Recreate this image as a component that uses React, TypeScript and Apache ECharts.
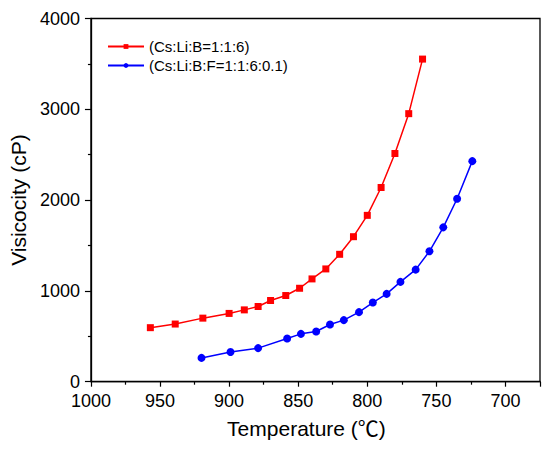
import React, { useEffect, useRef } from "react";
import * as echarts from "echarts";

const seriesNames = ["(Cs:Li:B=1:1:6)", "(Cs:Li:B:F=1:1:6:0.1)"];

const redTemp = [957, 939, 919, 900, 889, 879, 870, 859, 849, 840, 830, 820, 810, 800, 790, 780, 770, 760];
const redVisc = [595, 635, 700, 752, 791, 828, 894, 949, 1029, 1132, 1242, 1403, 1597, 1832, 2139, 2513, 2952, 3553];

const blueTemp = [920, 899, 879, 858, 848, 837, 827, 817, 806, 796, 786, 776, 765, 755, 745, 735, 724];
const blueVisc = [262, 327, 370, 476, 527, 553, 630, 678, 766, 872, 967, 1099, 1234, 1436, 1700, 2015, 2429];

const FONT = "'Liberation Sans', Arial, 'Noto Sans CJK SC', sans-serif";

export default function App() {
  const ref = useRef<HTMLDivElement>(null);
  useEffect(() => {
    if (!ref.current) return;
    const chart = echarts.init(ref.current, null, { renderer: "svg" });
    const pair = (xs: number[], ys: number[]) => xs.map((x, i) => [x, ys[i]]);
    chart.setOption({
      animation: false,
      backgroundColor: "#fff",
      textStyle: { fontFamily: FONT },
      grid: {
        left: 88,
        right: 10,
        top: 18.5,
        bottom: 67.3,
        show: true,
        borderColor: "#000",
        borderWidth: 1.3,
        backgroundColor: "transparent",
      },
      legend: {
        orient: "vertical",
        left: 102,
        top: 34,
        itemWidth: 36,
        itemHeight: 6,
        itemGap: 4,
        textStyle: { fontSize: 15, color: "#000", fontFamily: FONT },
        data: seriesNames,
      },
      xAxis: {
        type: "value",
        min: 675,
        max: 1000,
        inverse: true,
        splitNumber: 5,
        name: "Temperature (℃)",
        nameLocation: "middle",
        nameGap: 36,
        nameTextStyle: { fontSize: 21, color: "#000", fontFamily: FONT, padding: [0, 18, 0, 0] },
        axisLine: { show: true, lineStyle: { color: "#000", width: 1.3 } },
        axisTick: { show: true, inside: false, length: 5, lineStyle: { color: "#000", width: 1.2 } },
        minorTick: { show: true, splitNumber: 2, length: 3, lineStyle: { color: "#000", width: 1.2 } },
        splitLine: { show: false },
        axisLabel: {
          fontSize: 18,
          color: "#000",
          margin: 10,
          fontFamily: FONT,
          formatter: (v: number) => (v % 50 === 0 ? String(v) : ""),
        },
      },
      yAxis: {
        type: "value",
        min: 0,
        max: 4000,
        interval: 1000,
        name: "Visicocity (cP)",
        nameLocation: "middle",
        nameGap: 57,
        nameTextStyle: { fontSize: 21, color: "#000", fontFamily: FONT },
        axisLine: { show: true, lineStyle: { color: "#000", width: 1.3 } },
        axisTick: { show: true, inside: false, length: 6, lineStyle: { color: "#000", width: 1.2 } },
        minorTick: { show: true, splitNumber: 2, length: 3, lineStyle: { color: "#000", width: 1.2 } },
        splitLine: { show: false },
        axisLabel: {
          fontSize: 18,
          color: "#000",
          margin: 11,
          fontFamily: FONT,
          formatter: (v: number) => String(v),
        },
      },
      series: [
        {
          name: seriesNames[0],
          type: "line",
          data: pair(redTemp, redVisc),
          symbol: "rect",
          symbolSize: 7,
          color: "#ff0000",
          lineStyle: { color: "#ff0000", width: 1.5 },
          itemStyle: { color: "#ff0000" },
        },
        {
          name: seriesNames[1],
          type: "line",
          data: pair(blueTemp, blueVisc),
          symbol: "circle",
          symbolSize: 8,
          color: "#0000ff",
          lineStyle: { color: "#0000ff", width: 1.5 },
          itemStyle: { color: "#0000ff" },
        },
      ],
    });
    return () => chart.dispose();
  }, []);
  return <div ref={ref} style={{ width: 550, height: 449, position: "absolute", left: 0, top: 0 }} />;
}
